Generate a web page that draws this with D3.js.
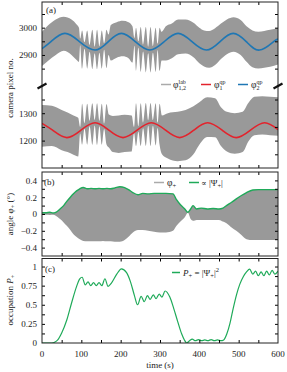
<!DOCTYPE html>
<html>
<head>
<meta charset="utf-8">
<script src="https://cdn.jsdelivr.net/npm/d3@7"></script>
<style>
  body { margin: 0; background: #fff; }
  text { font-family: "Liberation Serif", "DejaVu Serif", serif; fill: #222; }
</style>
</head>
<body>
<svg id="chart" width="287" height="372"></svg>
<script>
// ---- data ----
var timeTicks = [0, 100, 200, 300, 400, 500, 600]

// quasi-particle modes, camera pixel no. (t, value)
var phi2qp = [[0, 2923], [22, 2948], [58, 2979], [96, 2948], [135, 2918], [168, 2948], [202, 2979], [238, 2948],
  [274, 2918], [310, 2948], [346, 2979], [382, 2948], [418, 2918], [452, 2948], [486, 2979], [520, 2948],
  [553, 2918], [588, 2948], [600, 2958]]
var phi1qp = [[0, 1263], [27, 1238], [63, 1211], [99, 1238], [135, 1265], [170, 1238], [206, 1211], [242, 1238],
  [278, 1265], [314, 1238], [350, 1211], [386, 1238], [421, 1265], [458, 1238], [494, 1211], [530, 1238],
  [566, 1265], [600, 1240]]

// lab-frame envelopes (t, upper, lower)
var phi2lab = [[0, 2985, 2860], [15, 3008, 2878], [35, 3030, 2900], [55, 3040, 2915], [75, 3030, 2900],
  [88, 3012, 2882], [94, 3000, 2875], [97, 2960, 2936], [102, 2990, 2850], [108, 2947, 2923], [115, 2990, 2850],
  [121, 2936, 2912], [128, 2992, 2848], [134, 2930, 2906], [140, 2992, 2848], [146, 2932, 2908], [152, 2990, 2850],
  [158, 2943, 2919], [164, 2992, 2852], [169, 2975, 2900], [175, 3010, 2880], [190, 3020, 2890], [205, 3025, 2895],
  [220, 3020, 2888], [230, 3005, 2872], [235, 2962, 2934], [239, 3000, 2842], [245, 2950, 2926], [251, 3002, 2838],
  [257, 2937, 2913], [264, 3002, 2836], [270, 2930, 2906], [276, 3002, 2836], [282, 2932, 2908], [289, 3000, 2838],
  [294, 2942, 2918], [299, 3000, 2842], [304, 2985, 2880], [315, 3005, 2880], [330, 3015, 2888], [346, 3030, 2903],
  [365, 3030, 2905], [385, 3018, 2892], [400, 3000, 2870], [412, 2990, 2858], [425, 2988, 2853], [440, 2998, 2863],
  [455, 3015, 2885], [470, 3030, 2903], [487, 3038, 2912], [505, 3028, 2900], [520, 3005, 2875], [535, 2990, 2855],
  [550, 2985, 2850], [565, 2988, 2853], [580, 2992, 2857], [600, 3000, 2865]]
var phi1lab = [[0, 1330, 1178], [25, 1327, 1180], [50, 1312, 1165], [65, 1303, 1158], [80, 1292, 1148],
  [92, 1283, 1142], [97, 1250, 1226], [102, 1335, 1185], [108, 1263, 1243], [115, 1335, 1185], [121, 1272, 1252],
  [128, 1336, 1184], [134, 1275, 1255], [140, 1336, 1184], [146, 1272, 1252], [152, 1335, 1185], [158, 1262, 1242],
  [164, 1334, 1186], [170, 1295, 1175], [180, 1290, 1158], [195, 1292, 1155], [210, 1294, 1158], [228, 1292, 1160],
  [234, 1250, 1228], [239, 1336, 1180], [245, 1252, 1232], [251, 1336, 1180], [257, 1265, 1245], [264, 1337, 1180],
  [270, 1274, 1254], [276, 1337, 1180], [282, 1274, 1254], [289, 1336, 1182], [294, 1266, 1246], [299, 1335, 1184],
  [305, 1292, 1150], [320, 1300, 1135], [345, 1305, 1125], [365, 1312, 1128], [385, 1325, 1150], [400, 1340, 1185],
  [420, 1358, 1213], [440, 1355, 1212], [455, 1322, 1180], [470, 1305, 1160], [490, 1300, 1152], [510, 1305, 1158],
  [525, 1338, 1198], [540, 1360, 1220], [560, 1362, 1222], [580, 1360, 1220], [600, 1358, 1218]]

// panel (b): angle phi+ envelope, degrees
var bTime = [0, 10, 20, 28, 35, 46, 55, 63, 72, 80, 88, 96, 105, 115, 125, 135, 145, 155, 165, 175, 185, 198, 210,
  220, 231, 244, 256, 270, 285, 300, 315, 333, 342, 352, 363, 371, 378, 384, 393, 405, 420, 435, 450, 460, 469, 482,
  494, 507, 520, 536, 550, 565, 580, 600]
var psiAbs = [0.015, 0.015, 0.02, 0.012, 0.02, 0.06, 0.10, 0.15, 0.20, 0.24, 0.275, 0.30, 0.315, 0.30, 0.305, 0.30,
  0.305, 0.30, 0.305, 0.30, 0.31, 0.325, 0.315, 0.29, 0.255, 0.23, 0.245, 0.24, 0.245, 0.245, 0.245, 0.24, 0.17, 0.11,
  0.06, 0.02, 0.06, 0.10, 0.06, 0.07, 0.06, 0.065, 0.06, 0.07, 0.10, 0.14, 0.18, 0.22, 0.255, 0.285, 0.29, 0.29, 0.29, 0.29]
var phiPlusLow = [-0.01, -0.01, -0.012, -0.01, -0.02, -0.06, -0.10, -0.14, -0.19, -0.24, -0.275, -0.30, -0.32, -0.325,
  -0.325, -0.325, -0.325, -0.32, -0.325, -0.325, -0.33, -0.33, -0.31, -0.27, -0.22, -0.19, -0.19, -0.20, -0.21, -0.22,
  -0.22, -0.20, -0.14, -0.09, -0.04, 0.015, -0.06, -0.08, -0.07, -0.07, -0.07, -0.07, -0.07, -0.09, -0.11, -0.16,
  -0.20, -0.25, -0.30, -0.31, -0.31, -0.31, -0.31, -0.31]

// panel (c): occupation P+
var cTime = [0, 25, 32, 40, 50, 63, 75, 88, 96, 102, 110, 117, 124, 131, 138, 145, 152, 160, 168, 176, 190, 202, 215,
  225, 235, 243, 252, 260, 268, 275, 283, 290, 298, 305, 313, 325, 335, 345, 355, 362, 368, 375, 382, 390, 398, 406,
  414, 422, 430, 438, 446, 455, 462, 470, 478, 486, 495, 503, 512, 520, 528, 536, 543, 550, 557, 564, 571, 578, 585, 592, 600]
var pPlus = [0, 0, 0.01, 0.04, 0.13, 0.30, 0.52, 0.74, 0.84, 0.86, 0.76, 0.80, 0.75, 0.79, 0.75, 0.79, 0.75, 0.84, 0.74,
  0.78, 0.90, 0.97, 0.92, 0.80, 0.62, 0.50, 0.61, 0.54, 0.62, 0.57, 0.63, 0.58, 0.64, 0.60, 0.68, 0.60, 0.45, 0.28,
  0.12, 0.04, 0.0, 0.03, 0.05, 0.03, 0.045, 0.03, 0.04, 0.03, 0.045, 0.03, 0.04, 0.03, 0.04, 0.12, 0.26, 0.45, 0.64,
  0.77, 0.87, 0.93, 0.965, 0.90, 0.94, 0.88, 0.93, 0.88, 0.94, 0.89, 0.95, 0.90, 0.94]

var svg = d3.select('#chart')
var blue = '#1f77b4', red = '#e3232c', green = '#1faa59', gray = '#999'

var x = d3.scaleLinear().domain([0, 600]).range([42, 278])
var yUp = d3.scaleLinear().domain([2790, 3094]).range([85, 2])
var yLo = d3.scaleLinear().domain([1100, 1403]).range([168, 85])
var yB = d3.scaleLinear().domain([-0.5, 0.5]).range([256, 172])
var yC = d3.scaleLinear().domain([0, 1.105]).range([343, 258.5])

var panels = [{top: 2, bottom: 168}, {top: 172, bottom: 256}, {top: 258.5, bottom: 343}]
panels.forEach(function (p, k) {
  svg.append('clipPath').attr('id', 'clip' + k).append('rect')
    .attr('x', 42).attr('y', p.top).attr('width', 236).attr('height', p.bottom - p.top)
})

/** panel (a) */
var gA = svg.append('g').attr('clip-path', 'url(#clip0)')
var bandArea = function (ys) {
  return d3.area().x(function (d) { return x(d[0]) }).y0(function (d) { return ys(d[2]) })
    .y1(function (d) { return ys(d[1]) }).curve(d3.curveMonotoneX)
}
gA.append('path').attr('d', bandArea(yUp)(phi2lab)).attr('fill', gray)
gA.append('path').attr('d', bandArea(yLo)(phi1lab)).attr('fill', gray)
var qpLine = function (ys) {
  return d3.line().x(function (d) { return x(d[0]) }).y(function (d) { return ys(d[1]) }).curve(d3.curveNatural)
}
gA.append('path').attr('d', qpLine(yUp)(phi2qp)).attr('fill', 'none').attr('stroke', blue).attr('stroke-width', 1.6)
gA.append('path').attr('d', qpLine(yLo)(phi1qp)).attr('fill', 'none').attr('stroke', red).attr('stroke-width', 1.6)

/** panel (b) */
var gB = svg.append('g').attr('clip-path', 'url(#clip1)')
var bData = bTime.map(function (t, j) { return [t, psiAbs[j], phiPlusLow[j]] })
gB.append('path').attr('d', d3.area().x(function (d) { return x(d[0]) }).y0(function (d) { return yB(d[2]) })
  .y1(function (d) { return yB(d[1]) }).curve(d3.curveMonotoneX)(bData)).attr('fill', gray)
gB.append('path').attr('d', d3.line().x(function (d) { return x(d[0]) }).y(function (d) { return yB(d[1]) })
  .curve(d3.curveMonotoneX)(bData)).attr('fill', 'none').attr('stroke', green).attr('stroke-width', 1.4)

/** panel (c) */
var gC = svg.append('g').attr('clip-path', 'url(#clip2)')
gC.append('path').attr('d', d3.line().x(function (d, j) { return x(cTime[j]) }).y(function (d) { return yC(d) })
  .curve(d3.curveMonotoneX)(pPlus)).attr('fill', 'none').attr('stroke', green).attr('stroke-width', 1.2)

/** axes */
var fmtNum = function (d) { return d < 0 ? '\u2212' + Math.abs(d) : '' + d }
function yAxis (scale, vals, labelled) {
  var left = d3.axisLeft(scale).tickValues(vals).tickSize(-3).tickPadding(5)
    .tickFormat(function (d) { return labelled.indexOf(d) >= 0 ? fmtNum(d) : '' })
  var right = d3.axisRight(scale).tickValues(vals).tickSize(-3).tickFormat('')
  var g1 = svg.append('g').attr('transform', 'translate(42,0)').call(left)
  var g2 = svg.append('g').attr('transform', 'translate(278,0)').call(right)
  ;[g1, g2].forEach(function (g) {
    g.select('.domain').remove()
    g.selectAll('text').attr('font-size', 9).attr('font-family', 'Liberation Serif').attr('fill', '#222')
  })
}
yAxis(yUp, [2850, 2900, 2950, 3000, 3050], [2900, 3000])
yAxis(yLo, [1150, 1200, 1250, 1300, 1350], [1200, 1300])
yAxis(yB, [-0.4, -0.3, -0.2, -0.1, 0, 0.1, 0.2, 0.3, 0.4], [-0.4, -0.2, 0, 0.2, 0.4])
yAxis(yC, [0.125, 0.25, 0.375, 0.5, 0.625, 0.75, 0.875, 1], [0, 0.25, 0.5, 0.75, 1])
svg.append('text').attr('x', 37).attr('y', yC(0) + 3).attr('text-anchor', 'end').attr('font-size', 9).text('0')

var xVals = d3.range(50, 600, 50)
panels.forEach(function (p, k) {
  var bot = d3.axisBottom(x).tickValues(xVals).tickSize(-3).tickFormat('')
  var top = d3.axisTop(x).tickValues(xVals).tickSize(-3).tickFormat('')
  svg.append('g').attr('transform', 'translate(0,' + p.bottom + ')').call(bot).select('.domain').remove()
  svg.append('g').attr('transform', 'translate(0,' + p.top + ')').call(top).select('.domain').remove()
  svg.append('rect').attr('x', 42).attr('y', p.top).attr('width', 236).attr('height', p.bottom - p.top)
    .attr('fill', 'none').attr('stroke', '#222').attr('stroke-width', 1)
})
svg.append('g').selectAll('text').data(timeTicks).enter().append('text')
  .attr('x', function (d) { return x(d) }).attr('y', 357).attr('text-anchor', 'middle').attr('font-size', 9)
  .text(function (d) { return d })

/** axis break marks */
;[42, 278].forEach(function (bx) {
  svg.append('line').attr('x1', bx - 4.5).attr('y1', 88.5).attr('x2', bx + 4.5).attr('y2', 83.5)
    .attr('stroke', '#111').attr('stroke-width', 2.2)
})

/** labels */
svg.append('text').attr('transform', 'translate(13,88) rotate(-90)').attr('text-anchor', 'middle')
  .attr('font-size', 9).text('camera pixel no.')
var lb = svg.append('text').attr('transform', 'translate(13,214) rotate(-90)').attr('text-anchor', 'middle')
  .attr('font-size', 9)
lb.append('tspan').text('angle \u03c6')
lb.append('tspan').attr('font-size', 6.5).attr('dy', 2).text('+')
lb.append('tspan').attr('dy', -2).text(' (\u00b0)')
var lc = svg.append('text').attr('transform', 'translate(13,300) rotate(-90)').attr('text-anchor', 'middle')
  .attr('font-size', 9)
lc.append('tspan').text('occupation ')
lc.append('tspan').attr('font-style', 'italic').text('P')
lc.append('tspan').attr('font-size', 6.5).attr('dy', 2).text('+')
svg.append('text').attr('x', 160).attr('y', 368).attr('text-anchor', 'middle').attr('font-size', 9).text('time (s)')

svg.append('text').attr('x', 46).attr('y', 13).attr('font-size', 9).text('(a)')
svg.append('text').attr('x', 44).attr('y', 185).attr('font-size', 9).text('(b)')
svg.append('text').attr('x', 45).attr('y', 272).attr('font-size', 9).text('(c)')

/** legends */
function legLine (x1, x2, y, c) {
  svg.append('line').attr('x1', x1).attr('x2', x2).attr('y1', y).attr('y2', y).attr('stroke', c).attr('stroke-width', 1.5)
}
function phiSym (px, py, sub, sup) {
  svg.append('text').attr('x', px).attr('y', py).attr('font-size', 9.5).text('\u03c6')
  svg.append('text').attr('x', px + 5.5).attr('y', py + 2).attr('font-size', 6).text(sub)
  svg.append('text').attr('x', px + 5.5).attr('y', py - 4).attr('font-size', 6).text(sup)
}
legLine(161, 171, 84.5, '#aaa'); phiSym(173, 88, '1,2', 'lab')
legLine(201, 211, 84.5, red); phiSym(214, 88, '1', 'qp')
legLine(238, 248, 84.5, blue); phiSym(251, 88, '2', 'qp')

legLine(154, 164, 182.5, '#aaa')
var tb1 = svg.append('text').attr('x', 167).attr('y', 186).attr('font-size', 9.5)
tb1.append('tspan').text('\u03c6')
tb1.append('tspan').attr('font-size', 6.5).attr('dy', 2).text('+')
legLine(189, 199, 182.5, green)
var tb2 = svg.append('text').attr('x', 201).attr('y', 186).attr('font-size', 9)
tb2.append('tspan').attr('font-family', 'DejaVu Serif').attr('font-size', 8).text('\u221d ')
tb2.append('tspan').text('|\u03a8')
tb2.append('tspan').attr('font-size', 6.5).attr('dy', 2).text('+')
tb2.append('tspan').attr('dy', -2).text('|')

legLine(172, 180, 272.5, green)
var tc = svg.append('text').attr('x', 183).attr('y', 276).attr('font-size', 9)
tc.append('tspan').attr('font-style', 'italic').text('P')
tc.append('tspan').attr('font-size', 6.5).attr('dy', 2).text('+')
tc.append('tspan').attr('dy', -2).text(' = |\u03a8')
tc.append('tspan').attr('font-size', 6.5).attr('dy', 2).text('+')
tc.append('tspan').attr('dy', -2).text('|')
tc.append('tspan').attr('font-size', 6.5).attr('dy', -4).text('2')
</script>
</body>
</html>
